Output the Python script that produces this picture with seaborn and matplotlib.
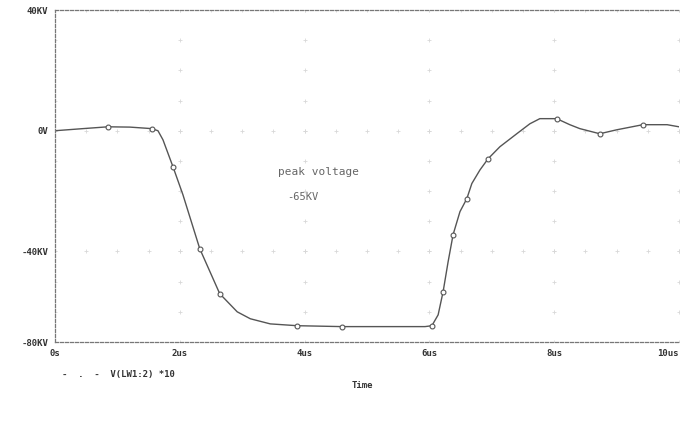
import matplotlib
matplotlib.use("Agg")
import matplotlib.pyplot as plt
import seaborn as sns
import numpy as np
import pandas as pd

# ---- data (time in us, voltage in kV) ----
time_us = [0.0, 0.45, 0.85, 1.2, 1.55, 1.65, 1.73, 1.89, 2.05, 2.32, 2.64, 2.92, 3.13,
           3.45, 3.88, 4.6, 5.53, 5.93, 6.04, 6.14, 6.22, 6.3, 6.38, 6.49, 6.6, 6.68,
           6.81, 6.94, 7.13, 7.4, 7.61, 7.77, 8.04, 8.25, 8.41, 8.73, 9.0, 9.42, 9.81, 10.0]
voltage_kv = [0.0, 0.7, 1.3, 1.2, 0.7, 0.0, -3.0, -11.9, -21.2, -39.1, -54.0, -60.0, -62.3,
              -64.0, -64.6, -64.9, -64.9, -64.9, -64.6, -61.0, -53.3, -43.4, -34.4, -26.8,
              -22.5, -17.5, -13.0, -9.3, -5.3, -1.0, 2.3, 4.0, 4.0, 2.0, 0.7, -1.0, 0.3,
              2.0, 2.0, 1.3]
marker_idx = [2, 4, 7, 9, 10, 14, 15, 18, 20, 22, 24, 27, 32, 35, 37]

x_ticks = [0, 2, 4, 6, 8, 10]
x_labels = ["0s", "2us", "4us", "6us", "8us", "10us"]
y_ticks = [40, 0, -40, -70]
y_labels = ["40KV", "0V", "-40KV", "-80KV"]

annot_title = "peak voltage"
annot_value = "-65KV"
legend_text = "V(LW1:2) *10"
x_title = "Time"

sns.set_theme(style="white")
plt.rcParams['font.family'] = ['DejaVu Sans Mono', 'DejaVu Sans']

fig = plt.figure(figsize=(6.81, 4.26), dpi=100)
ax = fig.add_axes([55/681, 1 - 342/426, 624/681, (342 - 10)/426])

df = pd.DataFrame({"t": time_us, "v": voltage_kv})
sns.lineplot(data=df, x="t", y="v", ax=ax, color="#555555", linewidth=1.0,
             marker="o", markevery=marker_idx, markersize=3.5,
             markerfacecolor="white", markeredgecolor="#555555", markeredgewidth=0.8)

ax.set_xlim(0, 10)
ax.set_ylim(-70, 40)

# faint dotted grid points
gx = np.arange(0, 10.01, 0.5)
gy = np.arange(-70, 40.01, 10)
pts_x, pts_y = [], []
for xv in x_ticks:
    for yv in gy:
        pts_x.append(xv); pts_y.append(yv)
for yv in [40, 0, -40]:
    for xv in gx:
        pts_x.append(xv); pts_y.append(yv)
ax.scatter(pts_x, pts_y, s=6, marker="+", color="#d8d8d8", linewidths=0.6, zorder=1)

ax.spines["right"].set_visible(False)
for side in ["left", "top", "bottom"]:
    ax.spines[side].set_linestyle((0, (2.5, 1.5)))
    ax.spines[side].set_color("#777777")
    ax.spines[side].set_linewidth(0.9)

ax.set_xticks(x_ticks)
ax.set_xticklabels(x_labels, fontsize=6.5, fontweight="bold", color="#333333")
ax.get_xticklabels()[-1].set_horizontalalignment("right")
ax.set_yticks(y_ticks)
ax.set_yticklabels(y_labels, fontsize=6.5, fontweight="bold", color="#333333")
ax.tick_params(axis="both", direction="out", length=3, width=0.8, color="#777777", pad=2)
ax.set_xlabel("")
ax.set_ylabel("")

fig.text(362/681, 1 - 386/426, x_title, fontsize=6.5, fontweight="bold",
         color="#333333", ha="center", va="center")
fig.text(318/681, 1 - 172/426, annot_title, fontsize=8, color="#666666",
         ha="center", va="center")
fig.text(303/681, 1 - 197/426, annot_value, fontsize=7.5, color="#666666",
         ha="center", va="center")
fig.text(62/681, 1 - 375/426, "-  .  -  " + legend_text, fontsize=6.5, fontweight="bold",
         color="#333333", ha="left", va="center")

fig.savefig("out.png", dpi=100)
